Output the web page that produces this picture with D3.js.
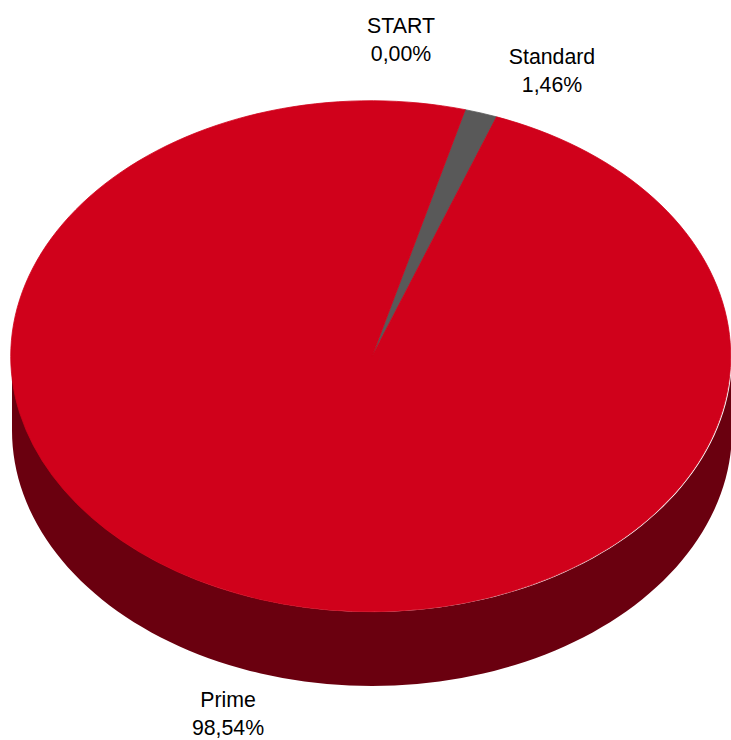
<!DOCTYPE html>
<html>
<head>
<meta charset="utf-8">
<script src="https://cdn.jsdelivr.net/npm/d3@7"></script>
<style>
  html, body { margin: 0; padding: 0; background: #fff; }
  text { font-family: "Liberation Sans", Arial, sans-serif; font-size: 21.3px; fill: #000; }
</style>
</head>
<body>
<div id="chart"></div>
<script>
// chart data
const categories = ["START", "Standard", "Prime"];
const values = [0.00, 1.46, 98.54];
const valueLabels = ["0,00%", "1,46%", "98,54%"];
const colors = ["#7f7f7f", "#595959", "#d0011b"];
const sideColors = ["#3f3f3f", "#2c2c2c", "#6a000f"];

// label anchors (centre x, first baseline y)
const labelPos = [[401, 33], [552, 64], [228, 707]];

const width = 731, height = 740;
let cx = 372, cy = 356.5, rx = 360, ry = 255.5, depth = 74,
    start = 15 * Math.PI / 180;

const svg = d3.select('#chart').append('svg')
    .attr('width', width)
    .attr('height', height);

const pie = d3.pie()
    .sort(null)
    .value(d => d)
    .startAngle(start)
    .endAngle(start + 2 * Math.PI);

const slices = pie(values);

// point on the ellipse for an angle (clockwise from top)
const pt = (a, dy) => [cx + rx * Math.sin(a), cy - ry * Math.cos(a) + dy];

// side walls, only the front half (90..270 deg) shows
const sides = svg.append('g');
slices.forEach((s, i) => {
    const lo = Math.PI / 2, hi = 3 * Math.PI / 2;
    // check the slice against the front half, also shifted by a full turn
    [0, 2 * Math.PI].forEach(shift => {
        let a0 = Math.max(s.startAngle, lo + shift),
            a1 = Math.min(s.endAngle, hi + shift);
        if (a1 <= a0) return;
        const steps = d3.range(0, 101).map(k => a0 + (a1 - a0) * k / 100);
        const topEdge = steps.map(a => pt(a, 0));
        const botEdge = steps.slice().reverse().map(a => pt(a, depth));
        sides.append('path')
            .attr('d', d3.line()(topEdge.concat(botEdge)) + 'Z')
            .style('fill', sideColors[i]);
    });
});

// top face, unit arc squashed into the ellipse
const arc = d3.arc()
    .innerRadius(0)
    .outerRadius(1);

svg.append('g')
    .attr('transform', `translate(${cx},${cy}) scale(${rx},${ry})`)
    .selectAll('path')
    .data(slices)
    .join('path')
    .filter(d => d.endAngle > d.startAngle)
    .attr('d', arc)
    .style('fill', d => colors[d.index])
    // thin own-colour edge hides the seam against the side wall
    .style('stroke', d => colors[d.index])
    .style('stroke-width', 0.8)
    .attr('vector-effect', 'non-scaling-stroke');

// data labels
const labels = svg.append('g')
    .selectAll('text')
    .data(categories)
    .join('text')
    .attr('text-anchor', 'middle')
    .attr('x', (d, i) => labelPos[i][0])
    .attr('y', (d, i) => labelPos[i][1]);

labels.append('tspan')
    .attr('x', (d, i) => labelPos[i][0])
    .text(d => d);

labels.append('tspan')
    .attr('x', (d, i) => labelPos[i][0])
    .attr('dy', 28)
    .text((d, i) => valueLabels[i]);
</script>
</body>
</html>
